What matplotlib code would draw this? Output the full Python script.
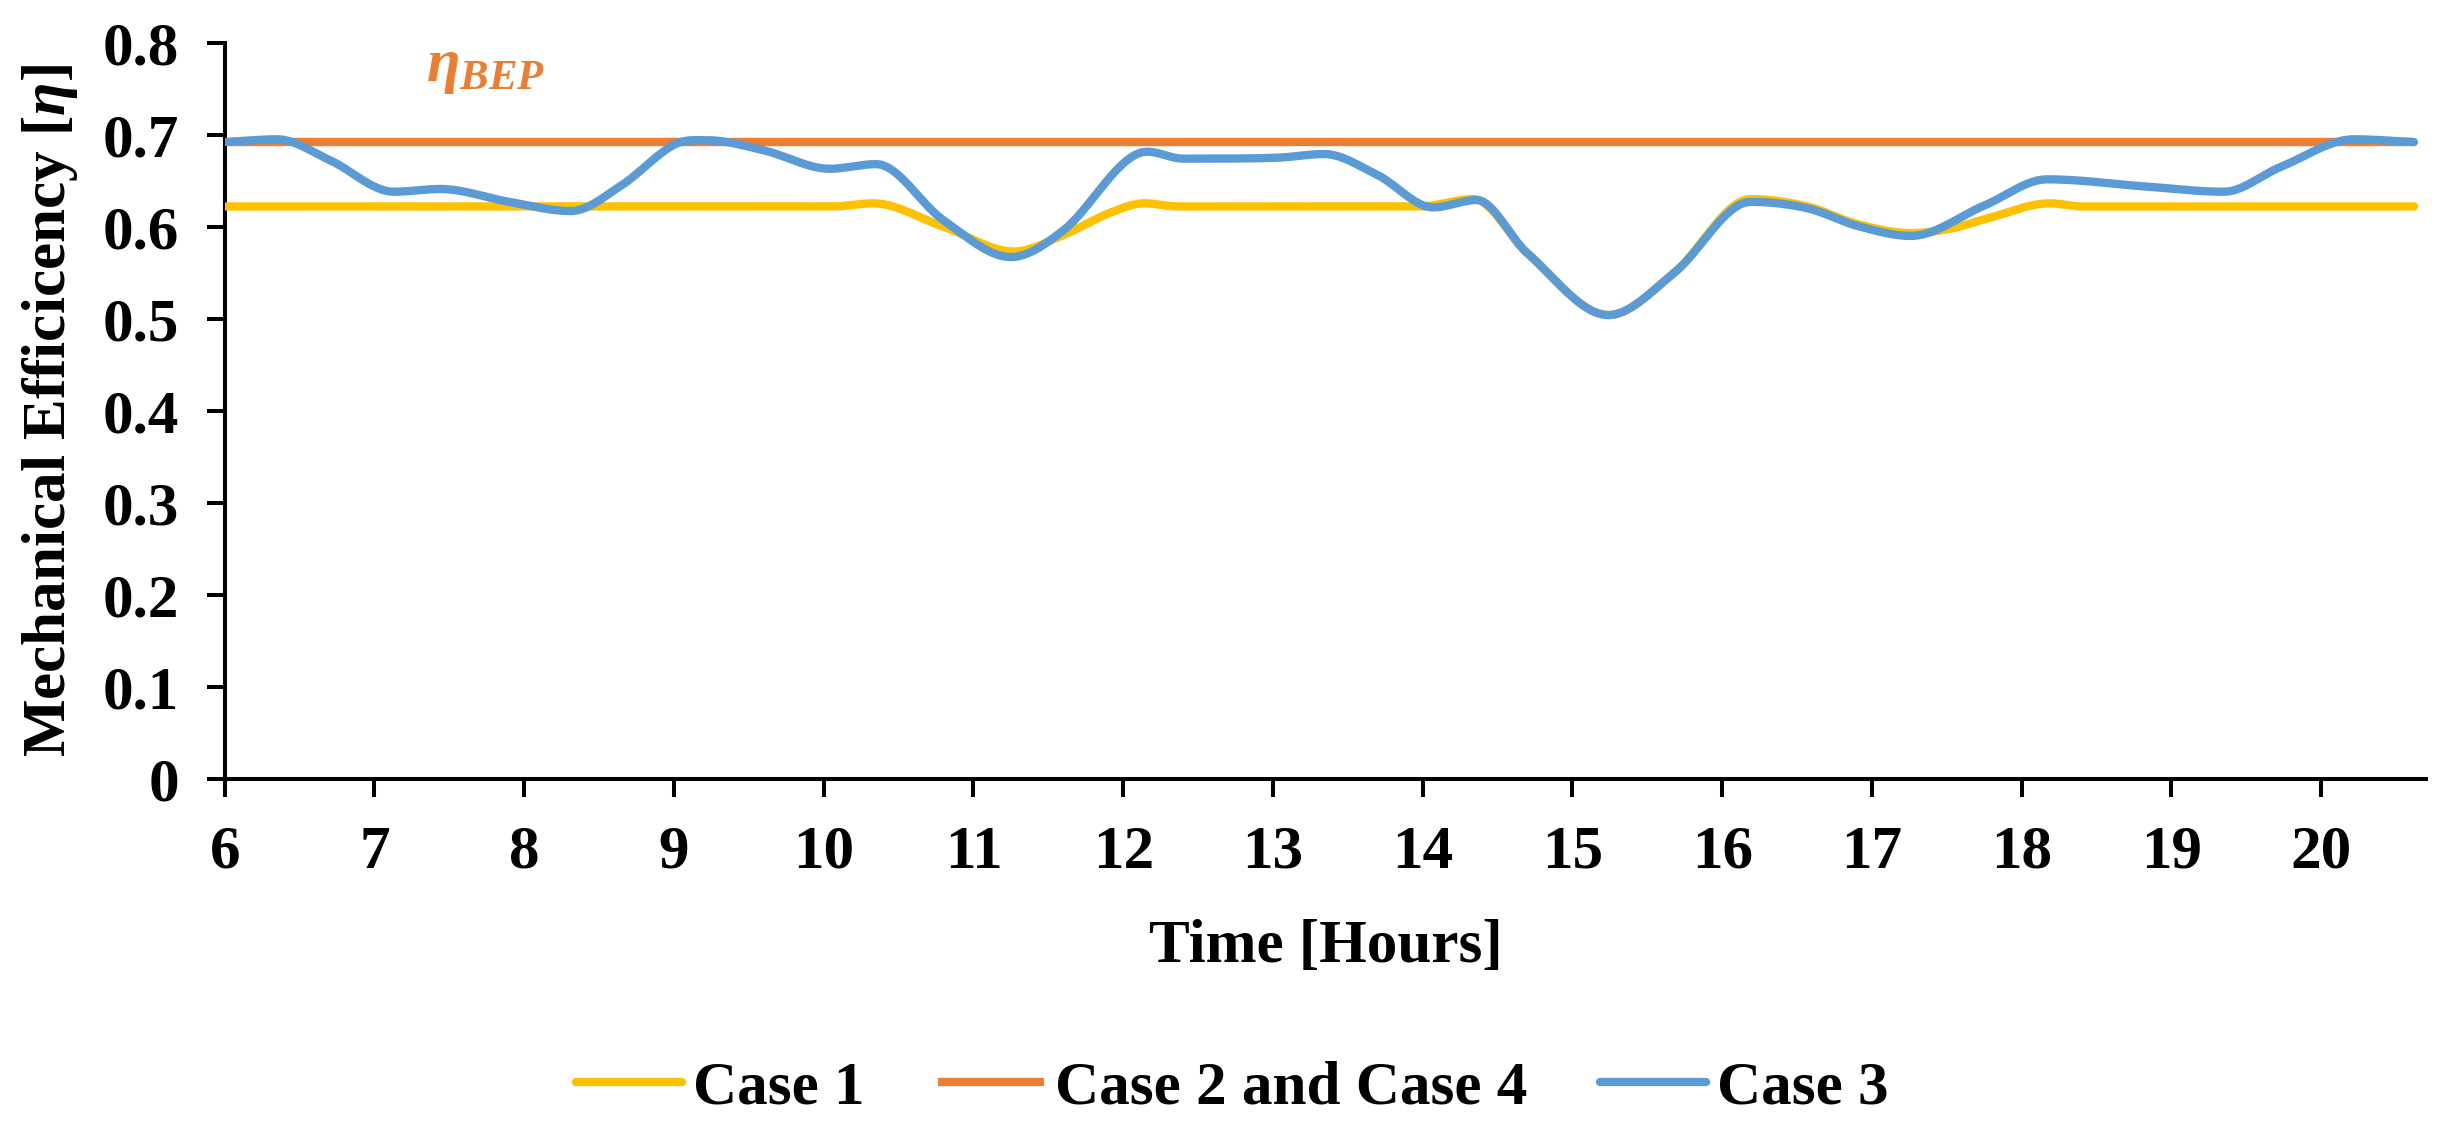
import numpy as np
import matplotlib
matplotlib.use("Agg")
import matplotlib.pyplot as plt

# ---------------- data ----------------
x_ticks = list(range(6, 21))

eta_bep = 0.692  # Case 2 and Case 4 (constant, at BEP)

case1_x = [6.0, 7.0, 8.0, 9.0, 10.06, 10.33, 10.8, 11.27, 11.6, 11.91, 12.14, 12.37,
           13.0, 13.98, 14.34, 14.7, 15.24, 15.68, 16.19, 16.57, 16.9, 17.26, 17.53,
           17.75, 18.19, 18.4, 19.0, 20.0, 20.62]
case1_y = [0.622, 0.622, 0.622, 0.622, 0.622, 0.6254, 0.600, 0.573, 0.591, 0.615, 0.6254, 0.622,
           0.622, 0.622, 0.630, 0.571, 0.504, 0.550, 0.630, 0.622, 0.603, 0.593, 0.598,
           0.608, 0.6254, 0.622, 0.622, 0.622, 0.622]

case3_x = [6.0, 6.35, 6.7, 7.13, 7.44, 7.9, 8.31, 8.65, 9.0, 9.22, 9.6, 10.04, 10.35,
           10.8, 11.25, 11.6, 12.16, 12.4, 13.03, 13.34, 13.7, 14.07, 14.36, 14.7,
           15.24, 15.68, 16.19, 16.57, 16.9, 17.26, 17.75, 18.17, 18.84, 19.35, 19.73,
           20.22, 20.62]
case3_y = [0.692, 0.695, 0.6725, 0.638, 0.641, 0.627, 0.617, 0.645, 0.689, 0.694, 0.683, 0.663, 0.668,
           0.607, 0.567, 0.596, 0.6815, 0.674, 0.675, 0.679, 0.656, 0.621, 0.629, 0.571,
           0.504, 0.550, 0.627, 0.620, 0.601, 0.590, 0.623, 0.6515, 0.6435, 0.638, 0.665,
           0.695, 0.692]

labels = ["Case 1", "Case 2 and Case 4", "Case 3"]
colors = ["#FFC000", "#ED7D31", "#5B9BD5"]


def smooth_line(xs, ys, n=60):
    """Smoothed line drawn through the read points (cubic Hermite in x)."""
    x = np.asarray(xs, float)
    y = np.asarray(ys, float)
    m = len(x)
    d = np.zeros(m)
    for i in range(m):
        if i == 0:
            d[i] = (y[1] - y[0]) / (x[1] - x[0])
        elif i == m - 1:
            d[i] = (y[-1] - y[-2]) / (x[-1] - x[-2])
        else:
            a = y[i] - y[i - 1]
            b = y[i + 1] - y[i]
            if a * b <= 0:
                d[i] = 0.0
            else:
                d[i] = (y[i + 1] - y[i - 1]) / (x[i + 1] - x[i - 1])
    xo, yo = [], []
    for i in range(m - 1):
        h = x[i + 1] - x[i]
        t = np.linspace(0, 1, n, endpoint=(i == m - 2))
        h00 = 2 * t**3 - 3 * t**2 + 1
        h10 = t**3 - 2 * t**2 + t
        h01 = -2 * t**3 + 3 * t**2
        h11 = t**3 - t**2
        xo.append(x[i] + t * h)
        yo.append(h00 * y[i] + h10 * h * d[i] + h01 * y[i + 1] + h11 * h * d[i + 1])
    return np.concatenate(xo), np.concatenate(yo)


plt.rcParams['font.family'] = ['Liberation Serif', 'DejaVu Serif']
plt.rcParams['font.weight'] = 'bold'
plt.rcParams['mathtext.fontset'] = 'custom'
plt.rcParams['mathtext.it'] = 'Liberation Serif:italic:bold'
plt.rcParams['mathtext.rm'] = 'Liberation Serif:bold'
plt.rcParams['mathtext.bf'] = 'Liberation Serif:bold'

W, H, DPI = 2446, 1129, 200
fig = plt.figure(figsize=(W / DPI, H / DPI), dpi=DPI)
ax = fig.add_axes([224.7 / W, 1 - 778.7 / H, (2426 - 224.7) / W, (778.7 - 42.7) / H])

lw = 3.0
x1, y1 = smooth_line(case1_x, case1_y)
x3, y3 = smooth_line(case3_x, case3_y)

ax.plot(x1, y1, color=colors[0], lw=lw, solid_capstyle='round', label=labels[0], zorder=3)
ax.plot([case3_x[0], case3_x[-1]], [eta_bep, eta_bep], color=colors[1], lw=lw,
        solid_capstyle='butt', label=labels[1], zorder=2)
ax.plot(x3, y3, color=colors[2], lw=lw, solid_capstyle='round', label=labels[2], zorder=4)

ax.set_xlim(6, 20.70)
ax.set_ylim(0, 0.8)
ax.set_xticks(x_ticks)
ax.set_xticklabels([str(t) for t in x_ticks])
ax.set_yticks([0, 0.1, 0.2, 0.3, 0.4, 0.5, 0.6, 0.7, 0.8])
ax.set_yticklabels(["0", "0.1", "0.2", "0.3", "0.4", "0.5", "0.6", "0.7", "0.8"])

for s in ['top', 'right']:
    ax.spines[s].set_visible(False)
for s in ['left', 'bottom']:
    ax.spines[s].set_linewidth(1.45)
ax.tick_params(axis='both', direction='out', length=6.5, width=1.45, labelsize=22, pad=10)

ax.set_xlabel("Time [Hours]", fontsize=22, fontweight='bold', labelpad=14)
ax.set_ylabel(r"Mechanical Efficicency [$\eta$]", fontsize=22, fontweight='bold', labelpad=8)

ax.text(7.74, 0.772, r"$\eta_{BEP}$", color=colors[1], fontsize=22, ha='center', va='center')

leg = fig.legend(loc='center', bbox_to_anchor=(0.5039, 0.0363), ncol=3, frameon=False,
                 fontsize=22, handlelength=1.73, handletextpad=0.18, columnspacing=1.2,
                 borderpad=0, borderaxespad=0)

fig.savefig("out.png", dpi=DPI)
